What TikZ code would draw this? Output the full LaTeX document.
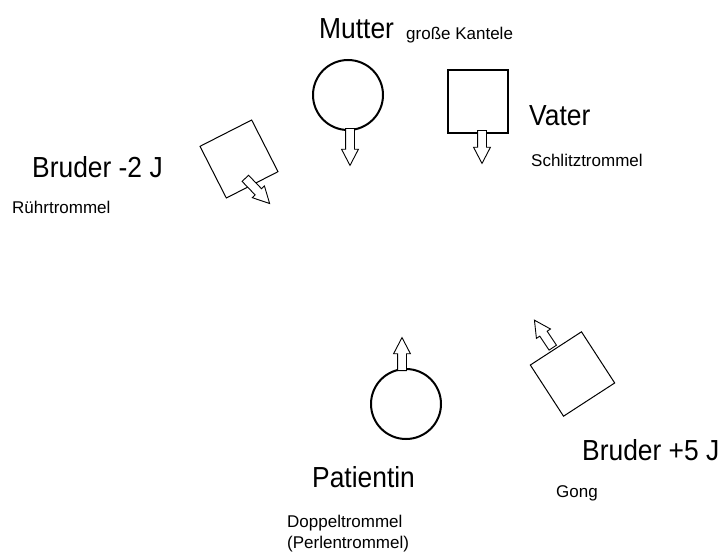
\documentclass[tikz,border=0pt]{standalone}
\usepackage{fontspec}
\setmainfont{Liberation Sans}
\newfontfamily\bigfont[FakeStretch=0.91]{Liberation Sans}
\usetikzlibrary{shapes.arrows}
\begin{document}
\begin{tikzpicture}[x=1pt,y=-1pt,
  lbl/.style={anchor=base west, inner sep=0pt, font=\bigfont\fontsize{29}{29}\selectfont},
  sub/.style={anchor=base west, inner sep=0pt, align=left, font=\fontsize{17}{21}\selectfont},
  drum/.style={circle, draw, line width=2pt, minimum size=70pt, inner sep=0pt},
  box/.style={rectangle, draw, inner sep=0pt},
  hollow/.style={single arrow, draw, fill=white, line width=0.9pt, inner sep=4pt,
    single arrow head extend=4pt, single arrow tip angle=55, minimum height=#1, anchor=tail}
]
\useasboundingbox[fill=white] (0,0) rectangle (726,554);

% Mutter
\node[drum] (mutter) at (348,95) {};
\node[hollow=37, rotate=-90] (mutterarrow) at (350,128) {};
\node[lbl] (muttertext) at (319,38) {Mutter};
\node[sub] (kantele) at (406,39) {große Kantele};

% Vater
\node[box, line width=2pt, minimum width=60pt, minimum height=63pt] (vater) at (478,101.5) {};
\node[hollow=33, rotate=-90] (vaterarrow) at (482,130) {};
\node[lbl] (vatertext) at (529,125) {Vater};
\node[sub] (schlitz) at (531,166) {Schlitztrommel};

% Bruder -2 J
\node[box, line width=1pt, minimum size=58pt, rotate=27] (bruderA) at (239,159) {};
\node[hollow=35, rotate=-46] (bruderAarrow) at (245,178) {};
\node[lbl] (bruderAtext) at (32,177) {Bruder -2 J};
\node[sub] (ruehr) at (12,213) {Rührtrommel};

% Bruder +5 J
\node[box, line width=1pt, minimum size=61pt, rotate=33] (bruderB) at (572.5,374) {};
\node[hollow=33, rotate=123.7] (bruderBarrow) at (553,348) {};
\node[lbl] (bruderBtext) at (582,460) {Bruder +5 J};
\node[sub] (gong) at (556,497) {Gong};

% Patientin
\node[drum] (patientin) at (406,404) {};
\node[hollow=33, rotate=90] (patarrow) at (402,371) {};
\node[lbl] (pattext) at (312,487) {Patientin};
\node[sub] (doppel) at (287,548) {Doppeltrommel\\(Perlentrommel)};
\end{tikzpicture}
\end{document}
